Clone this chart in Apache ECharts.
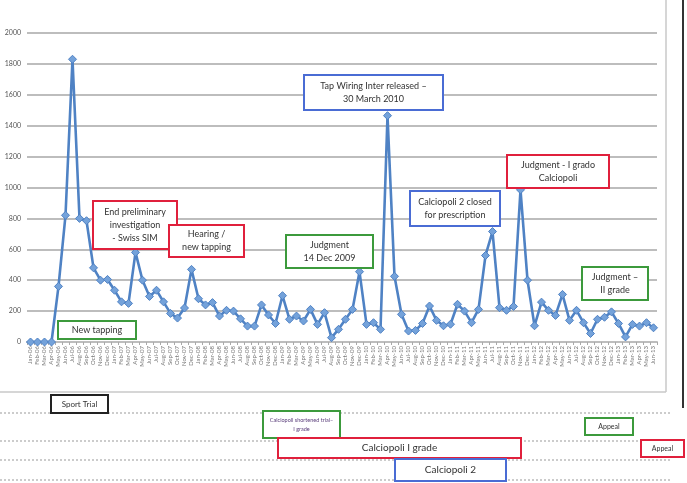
<!DOCTYPE html>
<html><head><meta charset="utf-8">
<script src="https://cdn.jsdelivr.net/npm/echarts@6/dist/echarts.min.js"></script>
<style>html,body{margin:0;padding:0;background:#fff}#c{width:687px;height:483px}</style>
</head><body><div id="c"></div>
<script>
const categories = [
'Jan-06','Feb-06','Mar-06','Apr-06','May-06','Jun-06','Jul-06','Aug-06','Sep-06','Oct-06','Nov-06','Dec-06',
'Jan-07','Feb-07','Mar-07','Apr-07','May-07','Jun-07','Jul-07','Aug-07','Sep-07','Oct-07','Nov-07','Dec-07',
'Jan-08','Feb-08','Mar-08','Apr-08','May-08','Jun-08','Jul-08','Aug-08','Sep-08','Oct-08','Nov-08','Dec-08',
'Jan-09','Feb-09','Mar-09','Apr-09','May-09','Jun-09','Jul-09','Aug-09','Sep-09','Oct-09','Nov-09','Dec-09',
'Jan-10','Feb-10','Mar-10','Apr-10','May-10','Jun-10','Jul-10','Aug-10','Sep-10','Oct-10','Nov-10','Dec-10',
'Jan-11','Feb-11','Mar-11','Apr-11','May-11','Jun-11','Jul-11','Aug-11','Sep-11','Oct-11','Nov-11','Dec-11',
'Jan-12','Feb-12','Mar-12','Apr-12','May-12','Jun-12','Jul-12','Aug-12','Sep-12','Oct-12','Nov-12','Dec-12',
'Jan-13','Feb-13','Mar-13','Apr-13','May-13','Jun-13'
];
const values = [
0,0,0,0,360,820,1830,800,785,480,400,405,
335,260,250,580,400,295,335,260,185,155,220,470,
280,240,255,168,205,200,150,103,103,240,175,120,
300,147,168,136,211,114,190,28,82,147,211,455,
114,125,82,1465,425,179,71,75,120,233,140,105,
115,244,200,125,211,560,715,222,205,230,985,400,
105,258,205,172,308,140,205,125,55,147,160,195,
120,33,114,103,125,92
];
const yTicks = {min:0, max:2000, interval:200};

const annotations = [
  {x:58,y:321,w:78,h:18,c:'#3c9a3c',t:'New tapping',fs:9},
  {x:93,y:201,w:84,h:48,c:'#e0203c',t:'End preliminary\ninvestigation\n- Swiss SIM',fs:9,lh:13},
  {x:169,y:225,w:75,h:32,c:'#e0203c',t:'Hearing /\nnew tapping',fs:9,lh:13},
  {x:286,y:235,w:87,h:33,c:'#3c9a3c',t:'Judgment\n14 Dec 2009',fs:9,lh:13},
  {x:304,y:75,w:139,h:35,c:'#4a6cd4',t:'Tap Wiring Inter released \u2013\n30 March 2010',fs:9,lh:13},
  {x:410,y:191,w:90,h:35,c:'#4a6cd4',t:'Calciopoli 2 closed\nfor prescription',fs:9,lh:13},
  {x:507,y:155,w:102,h:33,c:'#e0203c',t:'Judgment - I grado\nCalciopoli',fs:9,lh:13},
  {x:582,y:267,w:66,h:33,c:'#3c9a3c',t:'Judgment \u2013\nII grade',fs:9,lh:13},
  {x:51,y:395,w:57,h:18,c:'#222222',t:'Sport Trial',fs:8},
  {x:263,y:411,w:77,h:27,c:'#3c9a3c',t:'Calciopoli shortened trial\u2013\nI grade',fs:5.5,lh:9,tc:'#5a3d7a'},
  {x:585,y:418,w:48,h:17,c:'#3c9a3c',t:'Appeal',fs:7},
  {x:278,y:438,w:243,h:20,c:'#e0203c',t:'Calciopoli I grade',fs:10},
  {x:641,y:440,w:43,h:17,c:'#e0203c',t:'Appeal',fs:7},
  {x:395,y:459,w:111,h:22,c:'#4a6cd4',t:'Calciopoli 2',fs:10}
];

const graphic = [];
[413,441,460,480].forEach(function(yy){
  graphic.push({type:'line',z:50,shape:{x1:0,y1:yy,x2:672,y2:yy},style:{stroke:'#999',lineWidth:1,lineDash:[2,2]}});
});
graphic.push({type:'line',z:50,shape:{x1:666,y1:0,x2:666,y2:392},style:{stroke:'#c8c8c8',lineWidth:1.5}});
graphic.push({type:'line',z:50,shape:{x1:0,y1:392,x2:666,y2:392},style:{stroke:'#c8c8c8',lineWidth:1.5}});
graphic.push({type:'line',z:50,shape:{x1:683,y1:0,x2:683,y2:408},style:{stroke:'#333',lineWidth:2}});
annotations.forEach(function(a){
  graphic.push({type:'rect',z:60,shape:{x:a.x,y:a.y,width:a.w,height:a.h},style:{fill:'#fff',stroke:a.c,lineWidth:2}});
  graphic.push({type:'text',z:61,x:a.x+a.w/2,y:a.y+a.h/2,style:{text:a.t,fill:a.tc||'#333',font:a.fs+'px Lato, "Open Sans", sans-serif',align:'center',verticalAlign:'middle',textAlign:'center',textVerticalAlign:'middle',lineHeight:a.lh||a.fs+3}});
});

const chart = echarts.init(document.getElementById('c'), null, {renderer:'canvas'});
chart.setOption({
  animation:false,
  backgroundColor:'#fff',
  grid:{left:27,right:30,top:33,bottom:141,containLabel:false},
  xAxis:{type:'category',data:categories,boundaryGap:true,
    axisLine:{show:true,lineStyle:{color:'#bdbdbd',width:2}},
    axisTick:{show:true,length:3,lineStyle:{color:'#aaa'}},
    axisLabel:{interval:0,rotate:90,fontSize:6,color:'#777',margin:4,fontFamily:'Lato, sans-serif'},
    splitLine:{show:false}},
  yAxis:{type:'value',min:yTicks.min,max:yTicks.max,interval:yTicks.interval,
    axisLine:{show:false},axisTick:{show:false},
    axisLabel:{fontSize:7,color:'#555',margin:6,fontFamily:'Lato, sans-serif',formatter:function(v){return String(v);}},
    splitLine:{lineStyle:{color:'#bdbdbd',width:2}}},
  series:[{type:'line',data:values,symbol:'diamond',symbolSize:8,
    lineStyle:{color:'#4f82c4',width:2.6},
    itemStyle:{color:'#74a2da',borderColor:'#4f82c4',borderWidth:1}}],
  graphic:graphic
});
</script></body></html>
